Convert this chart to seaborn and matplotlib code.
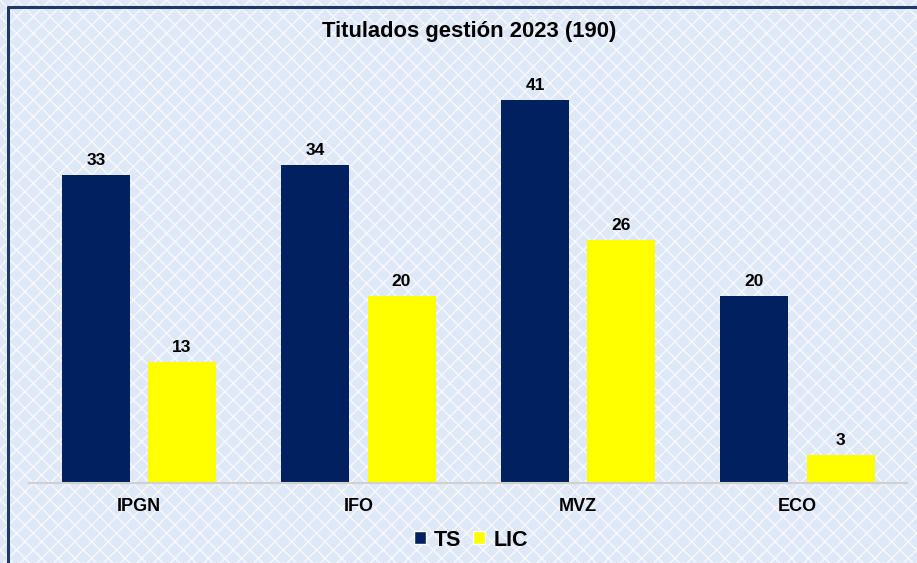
import matplotlib.pyplot as plt
import seaborn as sns
import pandas as pd
from matplotlib.patches import Rectangle
from matplotlib.lines import Line2D

# Data
carreras = ["IPGN", "IFO", "MVZ", "ECO"]
ts_values = [33, 34, 41, 20]
lic_values = [13, 20, 26, 3]
series = ["TS", "LIC"]
colors = ["#002060", "#FFFF00"]

df = pd.DataFrame({
    "carrera": carreras * 2,
    "serie": ["TS"] * len(carreras) + ["LIC"] * len(carreras),
    "valor": ts_values + lic_values,
})

sns.set_theme(style="white")
plt.rcParams["font.family"] = ["Liberation Sans", "DejaVu Sans"]
plt.rcParams["text.color"] = "black"
plt.rcParams["xtick.color"] = "black"

W, H = 917, 563
fig = plt.figure(figsize=(W / 100, H / 100), dpi=100)

# patterned background
bg = Rectangle((0, 0), 1, 1, transform=fig.transFigure, facecolor="#dfe8f7",
               edgecolor="#f7faff", hatch="xx", linewidth=0, zorder=-10)
fig.patches.append(bg)

# dark border (left and top)
fig.add_artist(Line2D([8 / W, 8 / W], [0, 1 - 7 / H], color="#1f3864", lw=2.2,
                      transform=fig.transFigure))
fig.add_artist(Line2D([8 / W, 1], [1 - 7 / H, 1 - 7 / H], color="#1f3864", lw=2.2,
                      transform=fig.transFigure))

left, right = 29.25, 907.25
top, bottom = 60, 483
ax = fig.add_axes([left / W, 1 - bottom / H, (right - left) / W, (bottom - top) / H])
ax.patch.set_alpha(0)

sns.barplot(data=df, x="carrera", y="valor", hue="serie", hue_order=series,
            palette=colors, width=0.784, gap=0.21, saturation=1, linewidth=0,
            ax=ax, legend=False)

ax.set_xlim(-0.5, 3.5)
ax.set_ylim(0, (bottom - top) / 9.34)

for cont in ax.containers:
    ax.bar_label(cont, padding=5, fontsize=12.5, fontweight="bold", color="black")

ax.set_xlabel("")
ax.set_ylabel("")
ax.set_yticks([])
ax.tick_params(axis="x", length=0, pad=11)
for lab in ax.get_xticklabels():
    lab.set_fontsize(13)
    lab.set_fontweight("bold")
for s in ["top", "right", "left"]:
    ax.spines[s].set_visible(False)
ax.spines["bottom"].set_color("#d0d0d0")
ax.spines["bottom"].set_linewidth(1.5)

fig.text(469 / W, 1 - 31 / H, "Titulados gestión 2023 (190)", ha="center",
         va="center", fontsize=15.8, fontweight="bold")

handles = [Rectangle((0, 0), 1, 1, facecolor=c) for c in colors]
fig.legend(handles, series, loc="center", bbox_to_anchor=(471 / W, 1 - 540 / H),
           ncol=2, frameon=False, handlelength=0.55, handleheight=0.55,
           handletextpad=0.4, columnspacing=0.55,
           prop={"size": 15.5, "weight": "bold"})

fig.savefig("out.png", dpi=100)
